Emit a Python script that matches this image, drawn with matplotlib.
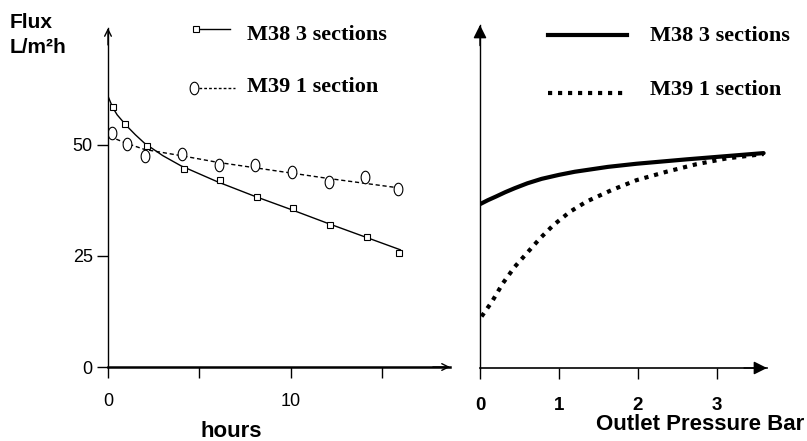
import numpy as np
import matplotlib.pyplot as plt
from matplotlib.lines import Line2D
from matplotlib.path import Path

# left panel: measured flux vs time
hours_m38 = [0.27, 0.92, 2.13, 4.14, 6.15, 8.17, 10.15, 12.16, 14.16, 15.95]
flux_m38 = [58.6, 54.7, 49.8, 44.6, 42.1, 38.3, 35.7, 32.0, 29.3, 25.6]
hours_m39 = [0.2, 1.02, 2.0, 4.05, 6.06, 8.04, 10.05, 12.07, 14.07, 15.86]
flux_m39 = [52.7, 50.3, 47.6, 47.9, 45.5, 45.4, 44.0, 41.7, 42.7, 40.2]

# fitted trend lines
fit_hours_m38 = [0, 0.25, 0.5, 1, 1.5, 2, 3, 4, 6, 8, 10, 12, 14, 16]
fit_flux_m38 = [61.0, 58.5, 56.8, 54.4, 52.3, 50.4, 47.6, 45.3, 41.7, 38.5, 35.5, 32.4, 29.4, 26.4]
fit_hours_m39 = [0.1, 1, 2, 3, 4, 6, 8, 10, 12, 14, 16]
fit_flux_m39 = [51.9, 50.4, 49.0, 48.3, 47.6, 46.1, 44.9, 43.7, 42.5, 41.4, 40.3]

# right panel: flux vs outlet pressure
pressure_m38 = [0.0, 0.1, 0.2, 0.32, 0.44, 0.6, 0.78, 1.0, 1.2, 1.62, 1.98,
                2.62, 3.59]
pflux_m38 = [36.9, 37.8, 38.6, 39.6, 40.5, 41.6, 42.6, 43.5, 44.2, 45.3, 46.0,
             47.0, 48.4]
pressure_m39 = [0.02, 0.15, 0.29, 0.44, 0.59, 0.76, 0.93, 1.14, 1.35, 1.67,
                1.98, 2.36, 2.74, 3.12, 3.59]
pflux_m39 = [11.6, 14.9, 19.1, 22.8, 25.8, 29.2, 32.2, 35.2, 37.5, 40.1,
             42.3, 44.2, 45.9, 47.2, 48.2]

W, H = 807, 441


def fx(px):
    return px / W


def fy(py):
    return 1 - py / H


sans = "Liberation Sans"
serif = "Liberation Serif"

# tall ellipse marker like the scanned circles
t = np.linspace(0, 2 * np.pi, 40)
ellipse = Path(np.column_stack([0.7 * np.cos(t), np.sin(t)]), closed=True)

fig = plt.figure(figsize=(W / 100, H / 100), dpi=100)

# ---- left panel ----
ax1 = fig.add_axes([fx(108), fy(367), fx(450) - fx(108), fy(28) - fy(367)])
ax1.set_xlim(0, 342 / 18.27)
ax1.set_ylim(0, 339 / 4.44)
for s in ["top", "right"]:
    ax1.spines[s].set_visible(False)
ax1.spines["left"].set_linewidth(1.0)
ax1.spines["bottom"].set_linewidth(1.8)

ax1.plot(fit_hours_m38, fit_flux_m38, color="black", lw=1.0)
ax1.plot(fit_hours_m39, fit_flux_m39, color="black", lw=1.0, ls=(0, (3, 2)))
ax1.plot(hours_m38, flux_m38, ls="none", marker="s", ms=4.5, mfc="white",
         mec="black", mew=0.8)
ax1.plot(hours_m39, flux_m39, ls="none", marker=ellipse, ms=9, mfc="white",
         mec="black", mew=0.8)

ax1.set_xticks([0, 5, 10, 15])
ax1.set_xticklabels(["0", "", "10", ""])
ax1.set_yticks([0, 25, 50])
ax1.tick_params(axis="both", direction="out", length=8, width=1, labelsize=13)
ax1.tick_params(axis="x", pad=11)
ax1.tick_params(axis="y", pad=3)
for lab in ax1.get_xticklabels() + ax1.get_yticklabels():
    lab.set_family(sans)

ax1.annotate("", xy=(0, 1), xycoords="axes fraction", xytext=(0, 0.95),
             arrowprops=dict(arrowstyle="->", lw=1.0, color="black",
                             shrinkA=0, shrinkB=0, mutation_scale=12),
             annotation_clip=False)
ax1.annotate("", xy=(1, 0), xycoords="axes fraction", xytext=(0.95, 0),
             arrowprops=dict(arrowstyle="->", lw=1.0, color="black",
                             shrinkA=0, shrinkB=0, mutation_scale=12),
             annotation_clip=False)

# ---- right panel ----
ax2 = fig.add_axes([fx(480), fy(368), fx(767) - fx(480), fy(25) - fy(368)])
ax2.set_xlim(0, 287 / 79)
ax2.set_ylim(0, 343 / 4.44)
for s in ["top", "right"]:
    ax2.spines[s].set_visible(False)
ax2.spines["left"].set_linewidth(1.0)
ax2.spines["bottom"].set_linewidth(1.2)

ax2.plot(pressure_m38, pflux_m38, color="black", lw=3.0, solid_capstyle="round",
         solid_joinstyle="round")
ax2.plot(pressure_m39, pflux_m39, color="black", lw=3.0, ls=(0, (1, 1.4)),
         dash_capstyle="butt")

ax2.set_xticks([0, 1, 2, 3])
ax2.set_yticks([])
ax2.tick_params(axis="x", direction="out", length=8, width=1, labelsize=13.5,
                pad=13)
for lab in ax2.get_xticklabels():
    lab.set_family(sans)
    lab.set_weight("bold")

ax2.annotate("", xy=(0, 1), xycoords="axes fraction", xytext=(0, 0.94),
             arrowprops=dict(arrowstyle="-|>", lw=1.0, color="black",
                             fc="black", shrinkA=0, shrinkB=0,
                             mutation_scale=20),
             annotation_clip=False)
ax2.annotate("", xy=(1, 0), xycoords="axes fraction", xytext=(0.92, 0),
             arrowprops=dict(arrowstyle="-|>", lw=1.0, color="black",
                             fc="black", shrinkA=0, shrinkB=0,
                             mutation_scale=20),
             annotation_clip=False)

# ---- axis titles ----
fig.text(fx(10), fy(28), "Flux", family=sans, weight="bold", fontsize=15,
         ha="left", va="baseline")
fig.text(fx(10), fy(53), "L/m²h", family=sans, weight="bold", fontsize=15,
         ha="left", va="baseline")
fig.text(fx(231), fy(437), "hours", family=sans, weight="bold", fontsize=16,
         ha="center", va="baseline")
fig.text(fx(804), fy(430), "Outlet Pressure Bar", family=sans, weight="bold",
         fontsize=16, ha="right", va="baseline")

# ---- legends ----
fig.add_artist(Line2D([fx(196), fx(230)], [fy(29), fy(29)], color="black",
                      lw=1.0, marker="s", ms=4, mfc="white", mec="black",
                      mew=0.8, markevery=[0]))
fig.add_artist(Line2D([fx(194), fx(235)], [fy(88), fy(88)], color="black",
                      lw=1.0, ls=(0, (2, 1.5)), marker=ellipse, ms=9,
                      mfc="white", mec="black", mew=0.8, markevery=[0]))
fig.text(fx(247), fy(40), "M38 3 sections", family=serif, weight="bold",
         fontsize=16, ha="left", va="baseline")
fig.text(fx(247), fy(92), "M39 1 section", family=serif, weight="bold",
         fontsize=16, ha="left", va="baseline")

fig.add_artist(Line2D([fx(548), fx(627)], [fy(35), fy(35)], color="black",
                      lw=3.0))
fig.add_artist(Line2D([fx(548), fx(627)], [fy(93), fy(93)], color="black",
                      lw=3.0, ls=(0, (1, 1.4)), dash_capstyle="butt"))
fig.text(fx(650), fy(41), "M38 3 sections", family=serif, weight="bold",
         fontsize=16, ha="left", va="baseline")
fig.text(fx(650), fy(95), "M39 1 section", family=serif, weight="bold",
         fontsize=16, ha="left", va="baseline")

fig.savefig("out.png", dpi=100)
